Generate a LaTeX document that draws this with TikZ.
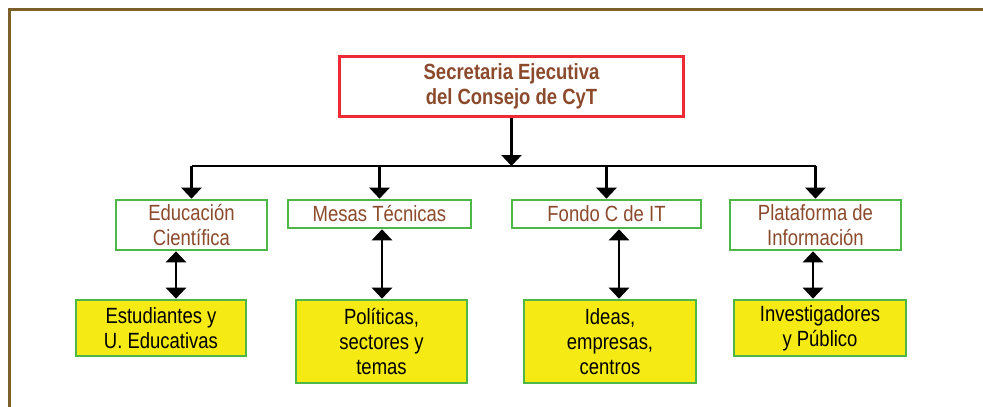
\documentclass[tikz,border=0pt]{standalone}
\usepackage{fontspec}
\setmainfont{Liberation Sans}[FakeStretch=0.84]
\usetikzlibrary{arrows.meta}
\definecolor{framec}{HTML}{7D5F2A}
\definecolor{redc}{HTML}{EE2A35}
\definecolor{greenc}{HTML}{4DB848}
\definecolor{yellowc}{HTML}{F5EA14}
\definecolor{textc}{HTML}{8B4A2B}
\tikzset{
  topbox/.style={draw=redc, line width=3pt, fill=white, minimum width=344pt, minimum height=60pt, inner sep=0pt, align=center, text=textc, font=\fontsize{22}{25}\selectfont\bfseries},
  midbox/.style={draw=greenc, line width=2.6pt, fill=white, inner sep=0pt, align=center, text=textc, font=\fontsize{22}{25}\selectfont},
  botbox/.style={draw=greenc, line width=2.6pt, fill=yellowc, inner sep=0pt, align=center, text=black, font=\fontsize{22}{25}\selectfont},
  conn/.style={line width=2.6pt, black},
  arr/.style={conn, -{Triangle[width=20pt,length=11pt]}},
  dbl/.style={conn, {Triangle[width=20pt,length=11pt]}-{Triangle[width=20pt,length=11pt]}}
}
\begin{document}
\begin{tikzpicture}[x=1pt,y=-1pt]
\useasboundingbox (0,0) rectangle (983,407);
\draw[framec, line width=3pt] (9.5,407) -- (9.5,9.5) -- (983,9.5);
\node[topbox] (top) at (511.5,86.5) {Secretaria Ejecutiva\\del Consejo de CyT};
\node[midbox, minimum width=151pt, minimum height=50pt] (m1) at (191.5,225) {Educación\\Científica};
\node[midbox, minimum width=183pt, minimum height=28pt] (m2) at (379.5,214) {Mesas Técnicas};
\node[midbox, minimum width=189pt, minimum height=28pt] (m3) at (606.5,214) {Fondo C de IT};
\node[midbox, minimum width=171pt, minimum height=50pt] (m4) at (815.5,225) {Plataforma de\\Información};
\node[botbox, minimum width=170pt, minimum height=56pt] (b1) at (161,328) {Estudiantes y\\U. Educativas};
\node[botbox, minimum width=171pt, minimum height=83pt] (b2) at (381.5,341.5) {Políticas,\\sectores y\\temas};
\node[botbox, minimum width=172pt, minimum height=83pt] (b3) at (610,341.5) {Ideas,\\empresas,\\centros};
\node[botbox, minimum width=172pt, minimum height=56pt] (b4) at (820,328) {Investigadores\\y Público};
\coordinate (bus) at (511.5,166);
\coordinate (busL) at (191.5,166);
\coordinate (busR) at (815.5,166);
\draw[arr] (top.south) -- (bus);
\draw[conn] (busL) -- (busR);
\draw[arr] (busL) -- (m1.north);
\draw[arr] (bus -| m2.north) -- (m2.north);
\draw[arr] (bus -| m3.north) -- (m3.north);
\draw[arr] (busR) -- (m4.north);
\draw[dbl] ([xshift=-15.5pt]m1.south) -- ([xshift=15pt]b1.north);
\draw[dbl] ([xshift=2.5pt]m2.south) -- ([xshift=0.5pt]b2.north);
\draw[dbl] ([xshift=12.5pt]m3.south) -- ([xshift=9pt]b3.north);
\draw[dbl] ([xshift=-2.5pt]m4.south) -- ([xshift=-7pt]b4.north);
\end{tikzpicture}
\end{document}
